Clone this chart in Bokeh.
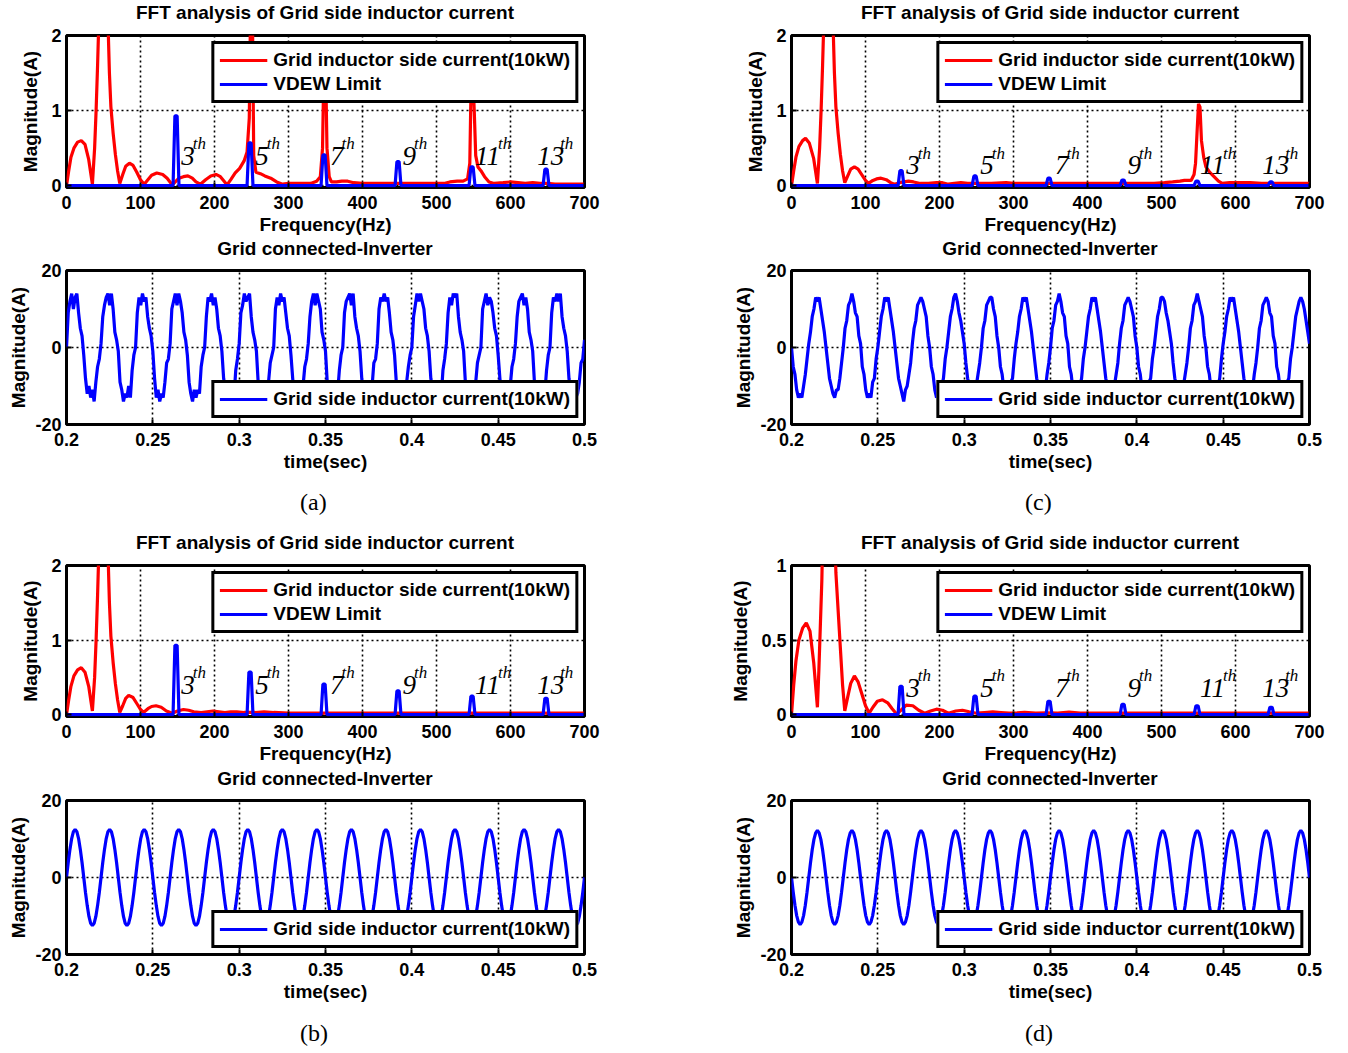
import numpy as np
from bokeh.plotting import figure
from bokeh.models import (ColumnDataSource, Legend, LegendItem, Range1d, Div,
                          CustomJSTickFormatter, FixedTicker)
from bokeh.layouts import column, row
from bokeh.embed import file_html
from bokeh.resources import INLINE
from bokeh.core.properties import value

FONT = "Liberation Sans"
SERIF = "Liberation Serif"

# ---------------------------------------------------------------- data
# FFT spectra (frequency Hz, magnitude A)
FFT_A_F = [0, 3, 6, 10, 15, 20, 25, 30, 35, 38, 40, 42, 44, 47, 50, 53, 56, 58, 60, 63, 66, 69, 72,
           76, 80, 85, 90, 95, 100, 105, 110, 115, 122, 130, 136, 143, 148, 152, 158, 164, 170, 175,
           181, 188, 195, 202, 208, 213, 217, 222, 228, 234, 240, 244, 247, 249, 251, 253, 256, 262,
           268, 276, 284, 292, 300, 310, 320, 330, 338, 343, 346, 348, 350, 352, 355, 358, 365, 372,
           380, 388, 400, 420, 440, 460, 480, 500, 510, 518, 528, 536, 542, 545, 547, 549, 551, 553,
           556, 560, 565, 571, 578, 590, 600, 610, 620, 630, 640, 650, 660, 680, 700]
FFT_A_MAG = [0, 0.2, 0.38, 0.5, 0.58, 0.6, 0.55, 0.35, 0.02, 0.5, 1.0, 1.6, 2.3, 6, 13, 6, 2.2, 1.5,
             1.05, 0.7, 0.42, 0.2, 0.03, 0.15, 0.26, 0.3, 0.27, 0.18, 0.08, 0.02, 0.08, 0.14, 0.17,
             0.15, 0.1, 0.01, 0.06, 0.1, 0.12, 0.13, 0.1, 0.05, 0.02, 0.08, 0.13, 0.15, 0.12, 0.06,
             0.01, 0.08, 0.17, 0.23, 0.33, 0.45, 0.9, 2.6, 2.6, 0.4, 0.18, 0.16, 0.13, 0.1, 0.05,
             0.02, 0.03, 0.03, 0.03, 0.03, 0.06, 0.12, 0.5, 1.7, 1.7, 0.5, 0.12, 0.05, 0.05, 0.06,
             0.06, 0.04, 0.03, 0.03, 0.03, 0.03, 0.03, 0.03, 0.03, 0.05, 0.06, 0.06, 0.09, 0.3, 1.5,
             1.5, 1.0, 0.4, 0.25, 0.2, 0.12, 0.05, 0.03, 0.04, 0.05, 0.04, 0.03, 0.04, 0.03, 0.03,
             0.02, 0.02, 0.02]

FFT_B_F = [0, 3, 6, 10, 15, 20, 25, 30, 35, 38, 40, 42, 44, 47, 50, 53, 56, 58, 60, 63, 66, 69, 72,
           76, 80, 84, 90, 95, 100, 104, 110, 115, 121, 128, 135, 143, 150, 158, 165, 172, 182, 190,
           198, 206, 214, 222, 230, 240, 255, 267, 280, 300, 700]
FFT_B_MAG = [0, 0.2, 0.38, 0.52, 0.6, 0.63, 0.57, 0.38, 0.05, 0.5, 1.0, 1.6, 2.3, 6, 13, 6, 2.2, 1.5,
             1.05, 0.7, 0.42, 0.2, 0.03, 0.12, 0.22, 0.26, 0.23, 0.15, 0.07, 0.03, 0.08, 0.11, 0.12,
             0.1, 0.05, 0.02, 0.05, 0.07, 0.06, 0.04, 0.03, 0.04, 0.05, 0.04, 0.03, 0.04, 0.04, 0.03,
             0.03, 0.04, 0.03, 0.02, 0.02]

FFT_C_F = [0, 3, 6, 10, 15, 19, 24, 30, 35, 38, 40, 42, 44, 47, 50, 53, 56, 58, 60, 63, 66, 69, 72,
           76, 80, 85, 90, 96, 100, 104, 110, 115, 121, 128, 134, 139, 146, 152, 158, 165, 174, 185,
           196, 204, 212, 220, 229, 238, 250, 270, 290, 300, 350, 400, 450, 490, 504, 515, 525, 531,
           540, 544, 546, 548, 550, 552, 554, 557, 560, 565, 571, 577, 582, 592, 604, 620, 635, 650,
           700]
FFT_C_MAG = [0, 0.2, 0.38, 0.52, 0.6, 0.63, 0.57, 0.36, 0.03, 0.5, 1.0, 1.6, 2.3, 6, 13, 6, 2.2, 1.5,
             1.05, 0.7, 0.42, 0.2, 0.04, 0.13, 0.22, 0.25, 0.22, 0.13, 0.07, 0.03, 0.07, 0.09, 0.1,
             0.08, 0.04, 0.02, 0.04, 0.05, 0.06, 0.05, 0.03, 0.03, 0.04, 0.04, 0.02, 0.03, 0.04,
             0.03, 0.03, 0.03, 0.04, 0.03, 0.03, 0.03, 0.03, 0.03, 0.04, 0.05, 0.06, 0.07, 0.07,
             0.15, 0.3, 0.7, 1.09, 1.05, 0.6, 0.38, 0.25, 0.18, 0.12, 0.06, 0.03, 0.04, 0.04, 0.04,
             0.03, 0.03, 0.03]

FFT_D_F = [0, 3, 6, 10, 15, 20, 25, 30, 35, 37, 39, 41, 43, 47, 50, 53, 56, 58, 60, 63, 66, 69, 72,
           76, 80, 85, 90, 95, 100, 105, 110, 116, 123, 130, 136, 142, 148, 155, 164, 172, 180, 188,
           196, 204, 212, 222, 231, 240, 250, 261, 272, 283, 294, 305, 315, 330, 345, 360, 375, 390,
           420, 700]
FFT_D_MAG = [0, 0.2, 0.36, 0.5, 0.58, 0.615, 0.56, 0.35, 0.05, 0.3, 0.6, 0.9, 1.4, 5, 13, 5, 2.0, 1.3,
             0.95, 0.7, 0.45, 0.2, 0.026, 0.12, 0.21, 0.26, 0.22, 0.14, 0.06, 0.01, 0.05, 0.09, 0.1,
             0.08, 0.04, 0.005, 0.03, 0.064, 0.06, 0.03, 0.01, 0.025, 0.037, 0.03, 0.01, 0.025, 0.03,
             0.02, 0.01, 0.015, 0.02, 0.015, 0.01, 0.012, 0.015, 0.01, 0.012, 0.01, 0.017, 0.01,
             0.01, 0.01]

# VDEW limit spikes at the odd harmonics
HARM_CENTER_HZ = [148, 248, 348, 448, 548, 648]
VDEW_A = [0.93, 0.57, 0.41, 0.32, 0.25, 0.22]
VDEW_B = [0.93, 0.57, 0.41, 0.32, 0.25, 0.22]
VDEW_C = [0.2, 0.13, 0.1, 0.075, 0.06, 0.05]
VDEW_D = [0.19, 0.125, 0.09, 0.07, 0.06, 0.05]

HARM_LABELS = ["3", "5", "7", "9", "11", "13"]
HARM_LABEL_HZ = [155, 255, 356, 454, 552, 636]
HARM_LABEL_MAG = {"a": 0.4, "b": 0.4, "c": 0.27, "d": 0.18}

FFT_X_TICKS = [0, 100, 200, 300, 400, 500, 600, 700]
FFT_Y_TICKS_ABC = [0, 1, 2]
FFT_Y_TICKS_D = [0, 0.5, 1]
TIME_X_TICKS = [0.2, 0.25, 0.3, 0.35, 0.4, 0.45, 0.5]
TIME_Y_TICKS = [-20, 0, 20]

# time-domain grid current (A), one sample per ms from 0.2 s to 0.5 s
T_START, T_END, N_SAMPLES = 0.2, 0.5, 301

CURRENT_A = [
    0, 9, 12, 14, 10, 13, 14, 9, 5, 3, -2, -8, -12, -10, -13, -11, -14, -9, -5, -3,
    1, 8, 11, 13, 14, 11, 14, 10, 4, 2, -1, -9, -11, -14, -12, -13, -10, -13, -6, -2,
    0, 9, 13, 11, 14, 12, 13, 8, 5, 3, -1, -8, -13, -11, -14, -12, -13, -9, -4, -3,
    1, 10, 12, 14, 11, 14, 12, 9, 4, 2, -2, -9, -12, -14, -11, -13, -11, -12, -5, -2,
    0, 8, 13, 12, 14, 11, 13, 10, 5, 3, -1, -8, -11, -13, -12, -14, -10, -13, -6, -3,
    1, 9, 11, 14, 12, 13, 14, 8, 4, 2, -1, -9, -12, -11, -13, -12, -14, -9, -4, -2,
    0, 10, 13, 11, 14, 12, 13, 9, 5, 3, -2, -8, -13, -12, -14, -11, -13, -10, -5, -3,
    1, 8, 12, 14, 11, 14, 12, 10, 4, 2, -1, -9, -11, -14, -12, -13, -11, -12, -6, -2,
    0, 9, 12, 13, 14, 11, 14, 8, 5, 3, -1, -8, -12, -13, -11, -14, -12, -10, -4, -3,
    1, 10, 13, 12, 14, 12, 13, 9, 4, 2, -2, -9, -13, -11, -14, -12, -13, -9, -5, -2,
    0, 8, 11, 14, 12, 14, 12, 10, 5, 3, -1, -8, -11, -14, -12, -13, -10, -13, -6, -3,
    1, 9, 13, 11, 14, 13, 14, 8, 4, 2, -1, -9, -12, -12, -14, -11, -13, -9, -4, -2,
    0, 10, 12, 14, 11, 13, 12, 9, 5, 3, -2, -8, -13, -11, -13, -12, -14, -10, -5, -3,
    1, 8, 12, 13, 14, 11, 13, 10, 4, 2, -1, -9, -11, -14, -12, -14, -11, -12, -6, -2,
    0, 9, 13, 12, 14, 12, 14, 8, 5, 3, -1, -8, -12, -13, -11, -13, -12, -9, -4, -3,
    2]

CURRENT_B = [
    0, 3.9, 7.3, 10.1, 11.9, 12.5, 11.9, 10.1, 7.3, 3.9, 0, -3.9, -7.3, -10.1, -11.9, -12.5, -11.9, -10.1, -7.3, -3.9,
    0, 3.9, 7.3, 10.1, 11.9, 12.5, 11.9, 10.1, 7.3, 3.9, 0, -3.9, -7.3, -10.1, -11.9, -12.5, -11.9, -10.1, -7.3, -3.9,
    0, 3.9, 7.3, 10.1, 11.9, 12.5, 11.9, 10.1, 7.3, 3.9, 0, -3.9, -7.3, -10.1, -11.9, -12.5, -11.9, -10.1, -7.3, -3.9,
    0, 3.9, 7.3, 10.1, 11.9, 12.5, 11.9, 10.1, 7.3, 3.9, 0, -3.9, -7.3, -10.1, -11.9, -12.5, -11.9, -10.1, -7.3, -3.9,
    0, 3.9, 7.3, 10.1, 11.9, 12.5, 11.9, 10.1, 7.3, 3.9, 0, -3.9, -7.3, -10.1, -11.9, -12.5, -11.9, -10.1, -7.3, -3.9,
    0, 3.9, 7.3, 10.1, 11.9, 12.5, 11.9, 10.1, 7.3, 3.9, 0, -3.9, -7.3, -10.1, -11.9, -12.5, -11.9, -10.1, -7.3, -3.9,
    0, 3.9, 7.3, 10.1, 11.9, 12.5, 11.9, 10.1, 7.3, 3.9, 0, -3.9, -7.3, -10.1, -11.9, -12.5, -11.9, -10.1, -7.3, -3.9,
    0, 3.9, 7.3, 10.1, 11.9, 12.5, 11.9, 10.1, 7.3, 3.9, 0, -3.9, -7.3, -10.1, -11.9, -12.5, -11.9, -10.1, -7.3, -3.9,
    0, 3.9, 7.3, 10.1, 11.9, 12.5, 11.9, 10.1, 7.3, 3.9, 0, -3.9, -7.3, -10.1, -11.9, -12.5, -11.9, -10.1, -7.3, -3.9,
    0, 3.9, 7.3, 10.1, 11.9, 12.5, 11.9, 10.1, 7.3, 3.9, 0, -3.9, -7.3, -10.1, -11.9, -12.5, -11.9, -10.1, -7.3, -3.9,
    0, 3.9, 7.3, 10.1, 11.9, 12.5, 11.9, 10.1, 7.3, 3.9, 0, -3.9, -7.3, -10.1, -11.9, -12.5, -11.9, -10.1, -7.3, -3.9,
    0, 3.9, 7.3, 10.1, 11.9, 12.5, 11.9, 10.1, 7.3, 3.9, 0, -3.9, -7.3, -10.1, -11.9, -12.5, -11.9, -10.1, -7.3, -3.9,
    0, 3.9, 7.3, 10.1, 11.9, 12.5, 11.9, 10.1, 7.3, 3.9, 0, -3.9, -7.3, -10.1, -11.9, -12.5, -11.9, -10.1, -7.3, -3.9,
    0, 3.9, 7.3, 10.1, 11.9, 12.5, 11.9, 10.1, 7.3, 3.9, 0, -3.9, -7.3, -10.1, -11.9, -12.5, -11.9, -10.1, -7.3, -3.9,
    0, 3.9, 7.3, 10.1, 11.9, 12.5, 11.9, 10.1, 7.3, 3.9, 0, -3.9, -7.3, -10.1, -11.9, -12.5, -11.9, -10.1, -7.3, -3.9,
    0]

CURRENT_C = [
    0, -5, -7, -11, -13, -12, -13, -10, -7, -3, 1, 4, 8, 10, 13, 12, 13, 10, 7, 4,
    0, -4, -8, -10, -12, -13, -11, -11, -8, -4, 0, 5, 7, 11, 12, 14, 12, 9, 8, 3,
    1, -5, -7, -11, -13, -12, -13, -9, -8, -3, 0, 4, 8, 10, 13, 12, 13, 10, 7, 4,
    0, -4, -8, -10, -12, -14, -11, -10, -7, -4, 1, 5, 7, 11, 12, 13, 12, 10, 8, 3,
    0, -5, -7, -11, -13, -12, -13, -10, -8, -3, 0, 4, 8, 10, 13, 14, 12, 9, 7, 4,
    1, -4, -8, -10, -12, -13, -12, -10, -7, -4, 0, 5, 7, 11, 12, 13, 13, 10, 8, 3,
    0, -5, -7, -11, -13, -12, -13, -9, -8, -3, 1, 4, 8, 10, 13, 12, 13, 10, 7, 4,
    0, -4, -8, -10, -12, -13, -11, -11, -7, -4, 0, 5, 7, 11, 12, 14, 12, 9, 8, 3,
    1, -5, -7, -11, -13, -12, -13, -10, -8, -3, 0, 4, 8, 10, 13, 12, 13, 10, 7, 4,
    0, -4, -8, -10, -12, -14, -11, -10, -7, -4, 1, 5, 7, 11, 12, 13, 12, 10, 8, 3,
    0, -5, -7, -11, -13, -12, -13, -9, -8, -3, 0, 4, 8, 10, 13, 13, 12, 9, 7, 4,
    1, -4, -8, -10, -12, -13, -12, -10, -7, -4, 0, 5, 7, 11, 12, 14, 12, 10, 8, 3,
    0, -5, -7, -11, -13, -12, -13, -10, -8, -3, 1, 4, 8, 10, 13, 12, 13, 10, 7, 4,
    0, -4, -8, -10, -12, -13, -11, -11, -7, -4, 0, 5, 7, 11, 12, 13, 12, 9, 8, 3,
    1, -5, -7, -11, -13, -12, -13, -9, -8, -3, 0, 4, 8, 10, 12, 13, 12, 10, 7, 4,
    1]

CURRENT_D = [
    0, -3.8, -7.2, -9.9, -11.6, -12.2, -11.6, -9.9, -7.2, -3.8, 0, 3.8, 7.2, 9.9, 11.6, 12.2, 11.6, 9.9, 7.2, 3.8,
    0, -3.8, -7.2, -9.9, -11.6, -12.2, -11.6, -9.9, -7.2, -3.8, 0, 3.8, 7.2, 9.9, 11.6, 12.2, 11.6, 9.9, 7.2, 3.8,
    0, -3.8, -7.2, -9.9, -11.6, -12.2, -11.6, -9.9, -7.2, -3.8, 0, 3.8, 7.2, 9.9, 11.6, 12.2, 11.6, 9.9, 7.2, 3.8,
    0, -3.8, -7.2, -9.9, -11.6, -12.2, -11.6, -9.9, -7.2, -3.8, 0, 3.8, 7.2, 9.9, 11.6, 12.2, 11.6, 9.9, 7.2, 3.8,
    0, -3.8, -7.2, -9.9, -11.6, -12.2, -11.6, -9.9, -7.2, -3.8, 0, 3.8, 7.2, 9.9, 11.6, 12.2, 11.6, 9.9, 7.2, 3.8,
    0, -3.8, -7.2, -9.9, -11.6, -12.2, -11.6, -9.9, -7.2, -3.8, 0, 3.8, 7.2, 9.9, 11.6, 12.2, 11.6, 9.9, 7.2, 3.8,
    0, -3.8, -7.2, -9.9, -11.6, -12.2, -11.6, -9.9, -7.2, -3.8, 0, 3.8, 7.2, 9.9, 11.6, 12.2, 11.6, 9.9, 7.2, 3.8,
    0, -3.8, -7.2, -9.9, -11.6, -12.2, -11.6, -9.9, -7.2, -3.8, 0, 3.8, 7.2, 9.9, 11.6, 12.2, 11.6, 9.9, 7.2, 3.8,
    0, -3.8, -7.2, -9.9, -11.6, -12.2, -11.6, -9.9, -7.2, -3.8, 0, 3.8, 7.2, 9.9, 11.6, 12.2, 11.6, 9.9, 7.2, 3.8,
    0, -3.8, -7.2, -9.9, -11.6, -12.2, -11.6, -9.9, -7.2, -3.8, 0, 3.8, 7.2, 9.9, 11.6, 12.2, 11.6, 9.9, 7.2, 3.8,
    0, -3.8, -7.2, -9.9, -11.6, -12.2, -11.6, -9.9, -7.2, -3.8, 0, 3.8, 7.2, 9.9, 11.6, 12.2, 11.6, 9.9, 7.2, 3.8,
    0, -3.8, -7.2, -9.9, -11.6, -12.2, -11.6, -9.9, -7.2, -3.8, 0, 3.8, 7.2, 9.9, 11.6, 12.2, 11.6, 9.9, 7.2, 3.8,
    0, -3.8, -7.2, -9.9, -11.6, -12.2, -11.6, -9.9, -7.2, -3.8, 0, 3.8, 7.2, 9.9, 11.6, 12.2, 11.6, 9.9, 7.2, 3.8,
    0, -3.8, -7.2, -9.9, -11.6, -12.2, -11.6, -9.9, -7.2, -3.8, 0, 3.8, 7.2, 9.9, 11.6, 12.2, 11.6, 9.9, 7.2, 3.8,
    0, -3.8, -7.2, -9.9, -11.6, -12.2, -11.6, -9.9, -7.2, -3.8, 0, 3.8, 7.2, 9.9, 11.6, 12.2, 11.6, 9.9, 7.2, 3.8,
    0]

FFT_TITLE = "FFT analysis of Grid side inductor current"
TIME_TITLE = "Grid connected-Inverter"
FFT_LEGEND = ["Grid inductor side current(10kW)", "VDEW Limit"]
TIME_LEGEND = "Grid side inductor current(10kW)"
CAPTIONS = ["(a)", "(b)", "(c)", "(d)"]

# ---------------------------------------------------------------- styling helpers
FMT = "return String(parseFloat(tick.toFixed(3)));"
LEFT = dict(width=684, bl=66, br=100, cap_pad=300)
RIGHT = dict(width=649, bl=107, br=24, cap_pad=341)
FRAME_W = 518


def style_common(p, xticks, yticks, ylabel_standoff):
    p.outline_line_color = "black"
    p.outline_line_width = 3
    p.outline_line_alpha = 1
    p.background_fill_color = "white"
    p.border_fill_color = "white"
    p.xaxis.ticker = FixedTicker(ticks=xticks)
    p.yaxis.ticker = FixedTicker(ticks=yticks)
    for ax in (p.xaxis[0], p.yaxis[0]):
        ax.axis_line_color = None
        ax.major_tick_in = 5
        ax.major_tick_out = 0
        ax.minor_tick_in = 0
        ax.minor_tick_out = 0
        ax.major_tick_line_width = 2
        ax.major_tick_line_color = "black"
        ax.major_label_text_font = FONT
        ax.major_label_text_font_size = "18px"
        ax.major_label_text_font_style = "bold"
        ax.major_label_text_color = "black"
        ax.major_label_standoff = 5
        ax.axis_label_text_font = FONT
        ax.axis_label_text_font_size = "19px"
        ax.axis_label_text_font_style = "bold"
        ax.axis_label_text_color = "black"
        ax.formatter = CustomJSTickFormatter(code=FMT)
    p.xaxis.major_label_standoff = 8
    p.xaxis.axis_label_standoff = 2
    p.yaxis.axis_label_standoff = ylabel_standoff
    for g in (p.xgrid[0], p.ygrid[0]):
        g.grid_line_color = "black"
        g.grid_line_dash = "2 3"
        g.grid_line_width = 1.6
        g.grid_line_alpha = 1


def style_legend(leg, padding):
    leg.border_line_color = "black"
    leg.border_line_width = 3
    leg.border_line_alpha = 1
    leg.background_fill_color = "white"
    leg.background_fill_alpha = 1
    leg.label_text_font = FONT
    leg.label_text_font_size = "19px"
    leg.label_text_font_style = "bold"
    leg.label_text_color = "black"
    leg.glyph_width = 48
    leg.glyph_height = 20
    leg.label_height = 20
    leg.label_standoff = 6
    leg.padding = padding
    leg.spacing = 2
    leg.margin = 6


def vdew_line(centers, heights):
    xs, ys = [0.0], [0.0]
    for c, h in zip(centers, heights):
        xs += [c - 4, c - 1.5, c + 1.5, c + 4]
        ys += [0.0, h, h, 0.0]
    xs.append(700.0)
    ys.append(0.0)
    return xs, ys


def fft_fig(f, mag, vdew, ymax, yticks, label_mag, side, height, bt, bb):
    p = figure(width=side["width"], height=height, output_backend="svg", toolbar_location=None,
               x_range=Range1d(0, 700), y_range=Range1d(-0.012 * ymax, ymax),
               min_border_left=side["bl"], min_border_right=side["br"],
               min_border_top=bt, min_border_bottom=bb, title=None,
               x_axis_label="Frequency(Hz)", y_axis_label="Magnitude(A)")
    style_common(p, FFT_X_TICKS, yticks, 7)
    r1 = p.line(f, mag, line_color="#FF0000", line_width=3.2)
    bx, by = vdew_line(HARM_CENTER_HZ, vdew)
    r2 = p.line(bx, by, line_color="#0000FF", line_width=3.2)
    src = ColumnDataSource(dict(x=HARM_LABEL_HZ, y=[label_mag] * len(HARM_LABELS),
                                t=HARM_LABELS, th=["th"] * len(HARM_LABELS),
                                xo=[11.5 * len(s) for s in HARM_LABELS]))
    p.text(x="x", y="y", text="t", source=src, text_font=value(SERIF), text_font_size="27px",
           text_font_style="italic", text_color="black", text_align="left",
           text_baseline="alphabetic")
    p.text(x="x", y="y", text="th", source=src, x_offset="xo", y_offset=-12,
           text_font=value(SERIF), text_font_size="17px", text_font_style="italic",
           text_color="black", text_align="left", text_baseline="alphabetic")
    leg = Legend(items=[LegendItem(label=FFT_LEGEND[0], renderers=[r1]),
                        LegendItem(label=FFT_LEGEND[1], renderers=[r2])],
                 location="top_right")
    style_legend(leg, 5)
    p.add_layout(leg)
    return p


def time_fig(current, side, height, bt, bb):
    t = np.linspace(T_START, T_END, N_SAMPLES)
    p = figure(width=side["width"], height=height, output_backend="svg", toolbar_location=None,
               x_range=Range1d(T_START, T_END), y_range=Range1d(-20, 20),
               min_border_left=side["bl"], min_border_right=side["br"],
               min_border_top=bt, min_border_bottom=bb, title=None,
               x_axis_label="time(sec)", y_axis_label="Magnitude(A)")
    style_common(p, TIME_X_TICKS, TIME_Y_TICKS, 3)
    r = p.line(t, current, line_color="#0000FF", line_width=3.2)
    leg = Legend(items=[LegendItem(label=TIME_LEGEND, renderers=[r])], location="bottom_right")
    style_legend(leg, 5)
    p.add_layout(leg)
    return p


def title_div(text, side, height, pad_top):
    html = ('<div style="margin-left:%dpx;width:%dpx;padding-top:%dpx;text-align:center;'
            'font-family:\'Liberation Sans\';font-weight:bold;font-size:19px;line-height:24px;'
            'color:black;white-space:nowrap;">%s</div>'
            % (side["bl"], FRAME_W, pad_top, text))
    return Div(text=html, width=side["width"], height=height, margin=0)


def caption(text, side, height, pad_top):
    html = ('<div style="padding-top:%dpx;padding-left:%dpx;font-family:\'Liberation Serif\';'
            'font-size:24px;line-height:28px;color:black;white-space:nowrap;">%s</div>'
            % (pad_top, side["cap_pad"], text))
    return Div(text=html, width=side["width"], height=height, margin=0)


def title_row(text, height, pad_top):
    return row(title_div(text, LEFT, height, pad_top), title_div(text, RIGHT, height, pad_top))


fa = fft_fig(FFT_A_F, FFT_A_MAG, VDEW_A, 2, FFT_Y_TICKS_ABC, HARM_LABEL_MAG["a"], LEFT, 211, 9, 50)
fc = fft_fig(FFT_C_F, FFT_C_MAG, VDEW_C, 2, FFT_Y_TICKS_ABC, HARM_LABEL_MAG["c"], RIGHT, 211, 9, 50)
ta = time_fig(CURRENT_A, LEFT, 213, 9, 50)
tc = time_fig(CURRENT_C, RIGHT, 213, 9, 50)
fb = fft_fig(FFT_B_F, FFT_B_MAG, VDEW_B, 2, FFT_Y_TICKS_ABC, HARM_LABEL_MAG["b"], LEFT, 211, 10, 49)
fd = fft_fig(FFT_D_F, FFT_D_MAG, VDEW_D, 1, FFT_Y_TICKS_D, HARM_LABEL_MAG["d"], RIGHT, 211, 10, 49)
tb = time_fig(CURRENT_B, LEFT, 213, 9, 50)
td = time_fig(CURRENT_D, RIGHT, 213, 9, 50)

layout = column(
    title_row(FFT_TITLE, 26, 1),
    row(fa, fc),
    title_row(TIME_TITLE, 24, 0),
    row(ta, tc),
    row(caption(CAPTIONS[0], LEFT, 51, 14), caption(CAPTIONS[2], RIGHT, 51, 14)),
    title_row(FFT_TITLE, 30, 6),
    row(fb, fd),
    title_row(TIME_TITLE, 25, 1),
    row(tb, td),
    row(caption(CAPTIONS[1], LEFT, 46, 15), caption(CAPTIONS[3], RIGHT, 46, 15)),
)
open("out.html", "w").write(file_html(layout, INLINE))
